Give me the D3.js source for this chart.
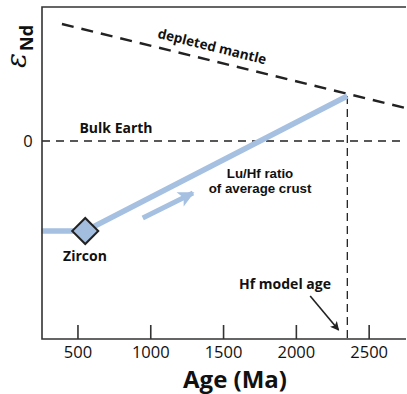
<!DOCTYPE html>
<html>
<head>
<meta charset="utf-8">
<script src="https://cdn.jsdelivr.net/npm/d3@7"></script>
<style>
  html, body { margin: 0; padding: 0; background: #fff; }
  svg { display: block; }
</style>
</head>
<body>
<div id="chart"></div>
<script>
// Values (age in Ma, epsilon units arbitrary)
const xTicks = [500, 1000, 1500, 2000, 2500];
const yTicks = [0];
const depletedMantle = [[390, 11.7], [2750, 3.3]];
const crustEvolution = [[250, -9], [550, -9], [2350, 4.5]];
const zircon = [550, -9];
const modelAge = 2350;
const bulkEarth = 0;
const trendArrow = [[945, -7.7], [1290, -5.2]];
const modelAgeArrow = [[2095, -15.5], [2290, -18.9]];

const W = 407, H = 394;
const margin = { top: 7, right: 1, bottom: 55, left: 42 };
const font = "'Open Sans', 'Noto Sans', sans-serif";
const blue = "#a5c0e1";
const ink = "#222";

const svg = d3.select("#chart").append("svg")
    .attr("width", W).attr("height", H);

const x = d3.scaleLinear().domain([253, 2753]).range([margin.left, W - margin.right]);
const y = d3.scaleLinear().domain([-19.8, 13.4]).range([H - margin.bottom, margin.top]);

const defs = svg.append("defs");
function marker(id, color, w, h) {
    defs.append("marker")
        .attr("id", id)
        .attr("viewBox", "0 0 10 10")
        .attr("refX", 9).attr("refY", 5)
        .attr("markerUnits", "userSpaceOnUse")
        .attr("markerWidth", w).attr("markerHeight", h)
        .attr("orient", "auto")
        .append("path")
        .attr("d", "M0,0 L10,5 L0,10 L2.5,5 Z")
        .attr("fill", color);
}
marker("head-blue", blue, 18, 16);
marker("head-black", ink, 10, 9);

const line = d3.line().x(d => x(d[0])).y(d => y(d[1]));

// Bulk Earth reference line
svg.append("line")
    .attr("x1", x.range()[0]).attr("x2", x.range()[1])
    .attr("y1", y(bulkEarth)).attr("y2", y(bulkEarth))
    .attr("stroke", ink).attr("stroke-width", 1.3)
    .attr("stroke-dasharray", "8,6");

// Model age vertical
svg.append("line")
    .attr("x1", x(modelAge)).attr("x2", x(modelAge))
    .attr("y1", y(crustEvolution[2][1])).attr("y2", y.range()[0])
    .attr("stroke", ink).attr("stroke-width", 1.3)
    .attr("stroke-dasharray", "8,5");

// Depleted mantle
svg.append("path")
    .attr("d", line(depletedMantle))
    .attr("fill", "none")
    .attr("stroke", ink).attr("stroke-width", 2.4)
    .attr("stroke-dasharray", "12,8");

// Crust evolution path
svg.append("path")
    .attr("d", line(crustEvolution))
    .attr("fill", "none")
    .attr("stroke", blue).attr("stroke-width", 5.5);

// Trend arrow
svg.append("path")
    .attr("d", line(trendArrow))
    .attr("fill", "none")
    .attr("stroke", blue).attr("stroke-width", 5)
    .attr("marker-end", "url(#head-blue)");

// Zircon diamond
svg.append("rect")
    .attr("x", -9.2).attr("y", -9.2)
    .attr("width", 18.4).attr("height", 18.4)
    .attr("transform", `translate(${x(zircon[0])},${y(zircon[1])}) rotate(45)`)
    .attr("fill", "#a3bddf")
    .attr("stroke", ink).attr("stroke-width", 2);

// Hf model age pointer
svg.append("path")
    .attr("d", line(modelAgeArrow))
    .attr("fill", "none")
    .attr("stroke", ink).attr("stroke-width", 1.6)
    .attr("marker-end", "url(#head-black)");

// Frame
svg.append("path")
    .attr("d", `M${x.range()[1]},${margin.top} H${margin.left} V${y.range()[0]} H${x.range()[1]}`)
    .attr("fill", "none")
    .attr("stroke", "#333").attr("stroke-width", 1.6);

// X ticks (inside) and labels
svg.selectAll(".xtick")
    .data(xTicks)
    .enter().append("line")
    .attr("x1", d => x(d)).attr("x2", d => x(d))
    .attr("y1", y.range()[0] - 14).attr("y2", y.range()[0])
    .attr("stroke", "#333").attr("stroke-width", 1.6);

svg.selectAll(".xlabel")
    .data(xTicks)
    .enter().append("text")
    .attr("x", d => x(d))
    .attr("y", 358)
    .attr("text-anchor", "middle")
    .attr("font-family", font)
    .attr("font-size", "16.5px")
    .attr("fill", "#111")
    .text(d => d);

svg.selectAll(".ylabel")
    .data(yTicks)
    .enter().append("text")
    .attr("x", 28)
    .attr("y", d => y(d) + 6)
    .attr("text-anchor", "middle")
    .attr("font-family", font)
    .attr("font-size", "16.5px")
    .attr("fill", "#111")
    .text(d => d);

// Axis titles
svg.append("text")
    .attr("x", 235).attr("y", 388)
    .attr("text-anchor", "middle")
    .attr("font-family", font)
    .attr("font-size", "24px")
    .attr("font-weight", "700")
    .attr("fill", "#111")
    .text("Age (Ma)");

const yt = svg.append("text")
    .attr("transform", "translate(26,68) rotate(-90)")
    .attr("font-family", font)
    .attr("fill", "#111");
yt.append("tspan")
    .attr("font-family", "'DejaVu Serif', serif")
    .attr("font-style", "italic")
    .attr("font-size", "28px")
    .text("ε");
yt.append("tspan")
    .attr("dy", 7)
    .attr("dx", 2)
    .attr("font-size", "18px")
    .attr("font-weight", "700")
    .text("Nd");

// Annotations
function label(lines, px, py, size, rot, fam) {
    const t = svg.append("text")
        .attr("transform", `translate(${px},${py})` + (rot ? ` rotate(${rot})` : ""))
        .attr("text-anchor", "middle")
        .attr("font-family", fam || font)
        .attr("font-size", size + "px")
        .attr("font-weight", "700")
        .attr("fill", "#111");
    [].concat(lines).forEach((s, i) => {
        t.append("tspan").attr("x", 0).attr("dy", i ? 15 : 0).text(s);
    });
}
label("depleted mantle", 211, 51, 13.5, 13.9);
label("Bulk Earth", 116, 133, 14);
label(["Lu/Hf ratio", "of average crust"], 260, 178, 13.3, 0, "'Liberation Sans', Arial, sans-serif");
label("Zircon", 85, 261, 14);
label("Hf model age", 285, 289, 14);
</script>
</body>
</html>
